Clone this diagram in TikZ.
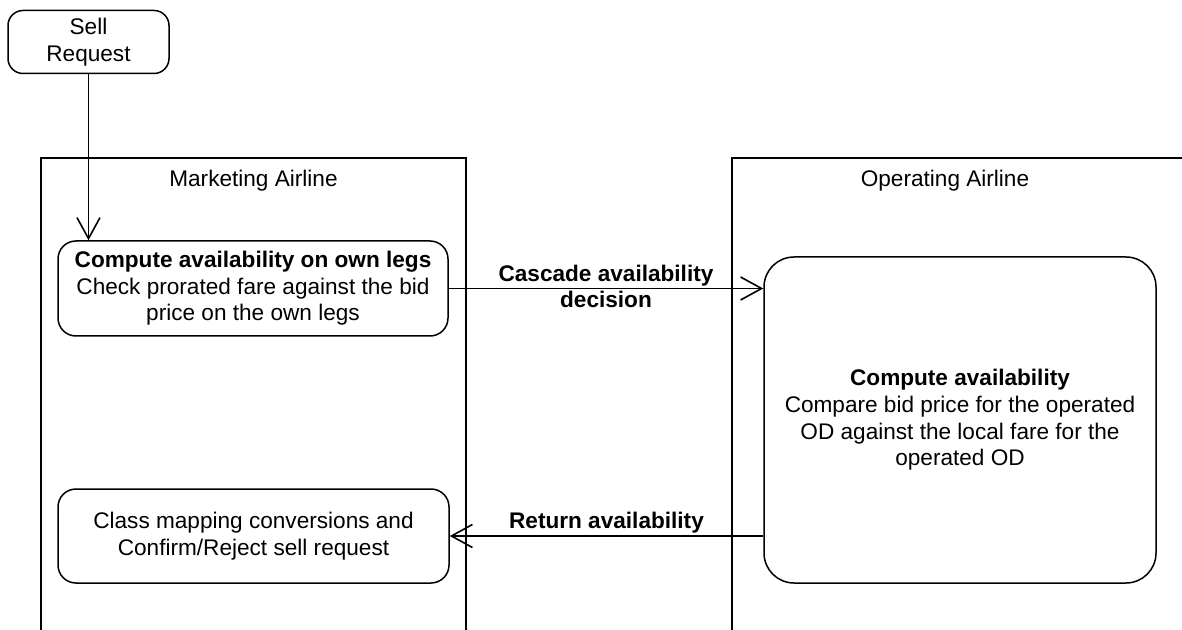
\documentclass[tikz,border=0pt]{standalone}
\usepackage{fontspec}
\setmainfont{Liberation Sans}
\usepackage{tikz}
\usepackage{xcolor}
\usetikzlibrary{arrows.meta}

\tikzset{
  txt/.style={font=\fontsize{11.3}{13.3}\selectfont, align=center, inner sep=0pt},
  actbox/.style={txt, draw, line width=0.75pt, rounded corners=9pt},
  flow/.style={line width=0.8pt, -{Straight Barb[length=10.5pt,width=11.5pt,line width=0.8pt]}}
}

\begin{document}
\begin{tikzpicture}[x=0.5pt, y=-0.5pt]
  % Fix the page size
  \useasboundingbox (0,0) rectangle (1182,630);

  % Draw the two swimlanes
  \draw[line width=0.75pt] (41,630) -- (41,158) -- (466,158) -- (466,630);
  \draw[line width=0.75pt] (732,630) -- (732,158) -- (1182,158);
  \node[txt] (mktlane) at (253.5,181) {Marketing Airline};
  \node[txt] (oplane) at (945,181) {Operating Airline};

  % Start node and actions
  \node[actbox, minimum width=80.5pt, minimum height=31.5pt, rounded corners=7.5pt] (sell) at (88.5,42) {Sell\\Request};
  \node[actbox, minimum width=195pt, minimum height=47.5pt] (ownlegs) at (253,288.5)
    {\textbf{Compute availability on own legs}\\Check prorated fare against the bid\\price on the own legs};
  \node[actbox, minimum width=196pt, minimum height=163pt, rounded corners=15pt] (opavail) at (960,420)
    {\textbf{Compute availability}\\Compare bid price for the operated\\OD against the local fare for the\\operated OD};
  \node[actbox, minimum width=195.5pt, minimum height=47pt] (confirm) at (253.5,536)
    {Class mapping conversions and\\Confirm/Reject sell request};

  % Connectors
  \draw[flow] (sell.south) -- (sell.south |- ownlegs.north);
  \draw[flow] (ownlegs.east) -- (ownlegs.east -| opavail.west)
    node[txt, midway, yshift=1pt] (cascade) {\textbf{Cascade availability}\\\textbf{decision}};
  \draw[flow] (opavail.west |- confirm.east) -- (confirm.east)
    node[txt, midway, above, yshift=1pt] (ret) {\textbf{Return availability}};
\end{tikzpicture}
\end{document}
